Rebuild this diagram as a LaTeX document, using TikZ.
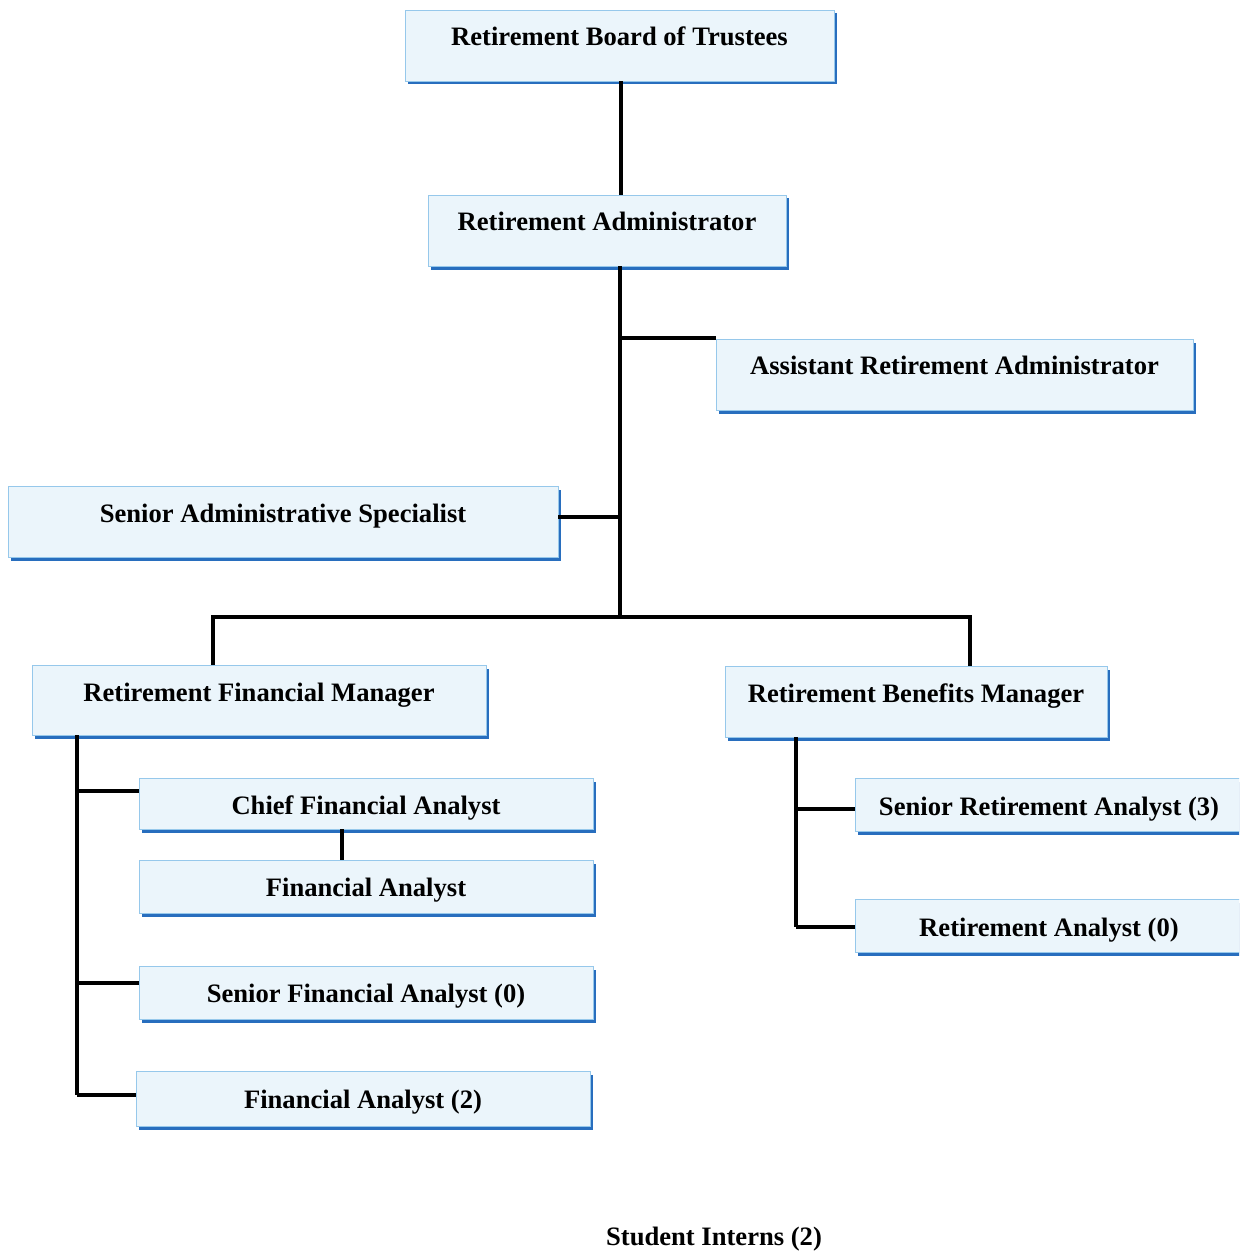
\documentclass[tikz,border=0pt]{standalone}
\usepackage{fontspec}
\setmainfont{Liberation Serif}
\usetikzlibrary{shadows}
\definecolor{boxfill}{RGB}{235,245,251}
\definecolor{boxline}{RGB}{150,200,235}
\definecolor{shadowblue}{RGB}{40,110,190}
\tikzset{
  box/.style={draw=boxline, line width=0.8pt, fill=boxfill, inner sep=0pt, anchor=base,
    font=\bfseries\fontsize{26.6}{30}\selectfont,
    drop shadow={shadow xshift=3pt, shadow yshift=-3.5pt, fill=shadowblue, opacity=1}},
  link/.style={line width=3.2pt, draw=black},
  plain/.style={font=\bfseries\fontsize{26.6}{30}\selectfont, inner sep=0pt, anchor=base}
}
\begin{document}
\begin{tikzpicture}[x=1pt,y=-1pt]
\useasboundingbox (0,0) rectangle (1239,1252);
\clip (0,0) rectangle (1239,1252);
% boxes
\node[box, minimum width=429pt, text height=36pt, text depth=35pt] (board) at (619.5,46) {Retirement Board of Trustees};
\node[box, minimum width=358pt, text height=35pt, text depth=36pt] (admin) at (607,230) {Retirement Administrator};
\node[box, minimum width=477pt, text height=35pt, text depth=36pt] (asst) at (954.5,374) {Assistant Retirement Administrator};
\node[box, minimum width=550pt, text height=36pt, text depth=35pt] (sas) at (283,522) {Senior Administrative Specialist};
\node[box, minimum width=454pt, text height=36pt, text depth=34pt] (rfm) at (259,701) {Retirement Financial Manager};
\node[box, minimum width=382pt, text height=36pt, text depth=35pt] (rbm) at (916,702) {Retirement Benefits Manager};
\node[box, minimum width=454pt, text height=36pt, text depth=15pt] (cfa) at (366,814) {Chief Financial Analyst};
\node[box, minimum width=454pt, text height=36pt, text depth=17pt] (fa) at (366,896) {Financial Analyst};
\node[box, minimum width=454pt, text height=36pt, text depth=17pt] (sfa) at (366,1002) {Senior Financial Analyst (0)};
\node[box, minimum width=454pt, text height=37pt, text depth=18pt] (fa2) at (363,1108) {Financial Analyst (2)};
\node[box, minimum width=388pt, text height=37pt, text depth=16pt] (sra) at (1049,815) {Senior Retirement Analyst (3)};
\node[box, minimum width=388pt, text height=37pt, text depth=16pt] (ra) at (1049,936) {Retirement Analyst (0)};
\node[plain] (interns) at (714,1245) {Student Interns (2)};
% junction coordinates
\coordinate (hub) at (620,617);
\coordinate (asstJ) at (620,338);
\coordinate (sasJ) at (620,517);
\coordinate (lv) at (77,0);
\coordinate (rv) at (796,0);
\coordinate (cfaJ) at (77,791);
\coordinate (sfaJ) at (77,983);
\coordinate (fa2J) at (77,1095);
\coordinate (sraJ) at (796,809);
\coordinate (raJ) at (796,927);
% connectors
\draw[link] (board.south -| 621,0) -- (admin.north -| 621,0);
\draw[link] (admin.south -| hub) -- (hub);
\draw[link] (asstJ) -- (asstJ -| asst.west);
\draw[link] (sas.east |- sasJ) -- (sasJ);
\draw[link] (rfm.north -| 213,0) |- (hub) -| (rbm.north -| 970,0);
\draw[link] (rfm.south -| lv) -- (fa2J);
\draw[link] (cfaJ) -- (cfaJ -| cfa.west);
\draw[link] (sfaJ) -- (sfaJ -| sfa.west);
\draw[link] (fa2J) -- (fa2J -| fa2.west);
\draw[link] (cfa.south -| 342,0) -- (fa.north -| 342,0);
\draw[link] (rbm.south -| rv) -- (raJ);
\draw[link] (sraJ) -- (sraJ -| sra.west);
\draw[link] (raJ) -- (raJ -| ra.west);
\end{tikzpicture}
\end{document}
